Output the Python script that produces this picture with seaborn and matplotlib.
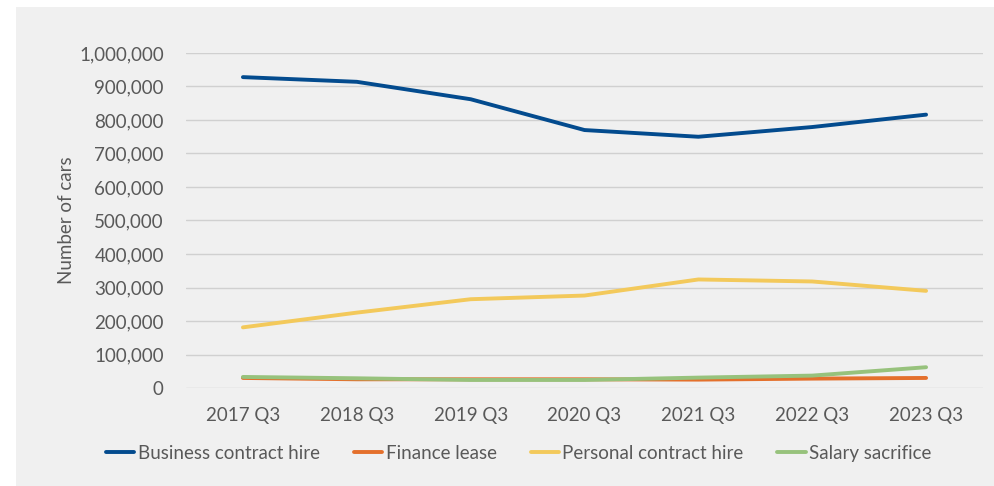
import pandas as pd
import matplotlib.pyplot as plt
import matplotlib.ticker as mticker
from matplotlib.patches import Rectangle
import seaborn as sns

quarters = ['2017 Q3', '2018 Q3', '2019 Q3', '2020 Q3', '2021 Q3', '2022 Q3', '2023 Q3']
business_contract_hire = [928000, 914000, 862000, 770000, 750000, 779000, 816000]
finance_lease = [30000, 26000, 26000, 26000, 25000, 28000, 30000]
personal_contract_hire = [181000, 225000, 265000, 276000, 324000, 318000, 290000]
salary_sacrifice = [33000, 29000, 24000, 24000, 31000, 37000, 62000]

series_names = ['Business contract hire', 'Finance lease', 'Personal contract hire', 'Salary sacrifice']
colors = ['#034B8E', '#E4702C', '#F3C95B', '#97C27C']

# long format for seaborn
rows = []
for name, vals in zip(series_names, [business_contract_hire, finance_lease,
                                     personal_contract_hire, salary_sacrifice]):
    for q, v in zip(quarters, vals):
        rows.append({'Quarter': q, 'Cars': v, 'Type': name})
df = pd.DataFrame(rows)

sns.set_theme(style="white")
plt.rcParams['font.family'] = ['Lato', 'DejaVu Sans']
bg = '#F0F0F0'
txt = '#595959'
fs = 13.5

fig = plt.figure(figsize=(9.95, 4.86), dpi=100, facecolor='white')
fig.patches.append(Rectangle((16 / 995, 0), 1, 1 - 7 / 486, transform=fig.transFigure,
                             facecolor=bg, edgecolor='none', zorder=-10))
ax = fig.add_axes([186 / 995, 1 - 388 / 486, (983 - 186) / 995, (388 - 53) / 486])
ax.set_facecolor(bg)

sns.lineplot(data=df, x='Quarter', y='Cars', hue='Type', palette=colors,
             linewidth=2.8, sort=False, ax=ax)

ax.set_xlim(-0.5, len(quarters) - 0.5)
ax.set_ylim(0, 1000000)
ax.yaxis.set_major_locator(mticker.MultipleLocator(100000))
ax.yaxis.set_major_formatter(mticker.FuncFormatter(lambda v, p: f'{int(v):,}'))
ax.grid(axis='y', color='#D0D0D0', linewidth=1)
ax.set_axisbelow(True)
for s in ax.spines.values():
    s.set_visible(False)
ax.tick_params(axis='both', length=0, labelsize=fs, labelcolor=txt)
ax.tick_params(axis='x', pad=14)
ax.tick_params(axis='y', pad=16)
ax.set_xlabel('')
ax.set_ylabel('Number of cars', fontsize=fs, color=txt, labelpad=3)

handles, labels = ax.get_legend_handles_labels()
ax.legend(handles, labels, loc='center', bbox_to_anchor=(519 / 995, 1 - 453 / 486),
          bbox_transform=fig.transFigure, ncol=4, frameon=False, fontsize=fs,
          labelcolor=txt, handlelength=1.5, handletextpad=0.2, columnspacing=1.8)

fig.savefig('out.png', dpi=100, facecolor='white')
